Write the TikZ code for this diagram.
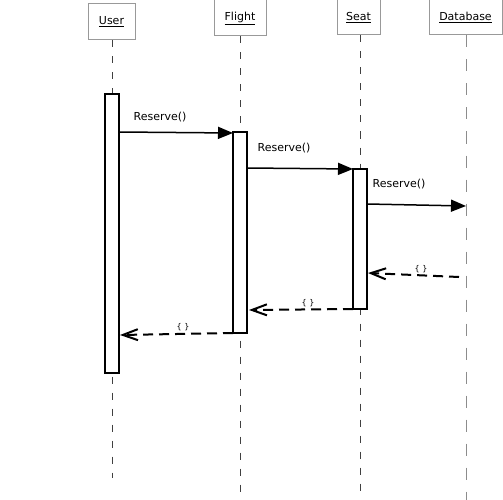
\documentclass[tikz,border=0pt]{standalone}
\usepackage{fontspec}
\setmainfont{DejaVu Sans}
\usetikzlibrary{arrows.meta}
\begin{document}
\begin{tikzpicture}[x=1pt,y=-1pt,
  objbox/.style={draw=black!40, fill=white, line width=1pt, inner sep=0pt, font=\fontsize{11}{13}\selectfont},
  life/.style={draw=black!75, line width=1pt, dash pattern=on 7pt off 9pt},
  lifedb/.style={draw=black!45, line width=1pt, dash pattern=on 12pt off 12pt},
  act/.style={draw=black, fill=white, line width=2pt, minimum width=14pt, inner sep=0pt},
  msg/.style={line width=1.5pt, -{Triangle[length=15pt,width=12pt]}},
  ret/.style={line width=2pt, dash pattern=on 10pt off 6pt, -{Straight Barb[length=15pt,width=11pt]}},
  mlabel/.style={font=\fontsize{11}{13}\selectfont, inner sep=0pt},
  rlabel/.style={font=\fontsize{8}{9}\selectfont, inner sep=0pt}]
\useasboundingbox (0,0) rectangle (503,500);

% object boxes
\node[objbox, minimum width=47pt, minimum height=36pt] (user) at (111.5,22) {\underline{User}};
\node[objbox, minimum width=52pt, minimum height=36pt] (flight) at (240,18) {\underline{Flight}};
\node[objbox, minimum width=43pt, minimum height=35pt] (seat) at (358.5,17.5) {\underline{Seat}};
\node[objbox, minimum width=73pt, minimum height=35pt] (db) at (465.5,17.5) {\underline{Database}};

% lifeline ends
\coordinate (userend) at (112,478);
\coordinate (flightend) at (240,500);
\coordinate (seatend) at (360,494);
\coordinate (dbend) at (466,500);

\draw[life] (user.south -| userend) -- (userend);
\draw[life] (flight.south -| flightend) -- (flightend);
\draw[life] (seat.south -| seatend) -- (seatend);
\draw[lifedb] (db.south -| dbend) -- (dbend);

% activations
\node[act, minimum height=279pt] (ua) at (112,233.5) {};
\node[act, minimum height=200pt] (fa) at (240,232.5) {};
\node[act, minimum height=140pt] (sa) at (360,239) {};

% message end points
\coordinate (m1s) at (119,132);
\coordinate (m1e) at (233,133);
\coordinate (m2s) at (247,168);
\coordinate (m2e) at (353,169);
\coordinate (m3s) at (367,204);
\coordinate (m3e) at (466,206);
\coordinate (r1s) at (459,277);
\coordinate (r1e) at (368,273);
\coordinate (r2s) at (353,309);
\coordinate (r2e) at (249,310);
\coordinate (r3s) at (233,333);
\coordinate (r3e) at (120,335);

\draw[msg] (m1s) -- (m1e);
\draw[msg] (m2s) -- (m2e);
\draw[msg] (m3s) -- (m3e);
\draw[ret] (r1s) -- (r1e);
\draw[ret] (r2s) -- (r2e);
\draw[ret] (r3s) -- (r3e);

% labels
\node[mlabel] (l1) at (160,117) {Reserve()};
\node[mlabel] (l2) at (284,148) {Reserve()};
\node[mlabel] (l3) at (399,184) {Reserve()};
\node[rlabel] (l4) at (421,269) {\{ \}};
\node[rlabel] (l5) at (308,303) {\{ \}};
\node[rlabel] (l6) at (183,327) {\{ \}};
\end{tikzpicture}
\end{document}
